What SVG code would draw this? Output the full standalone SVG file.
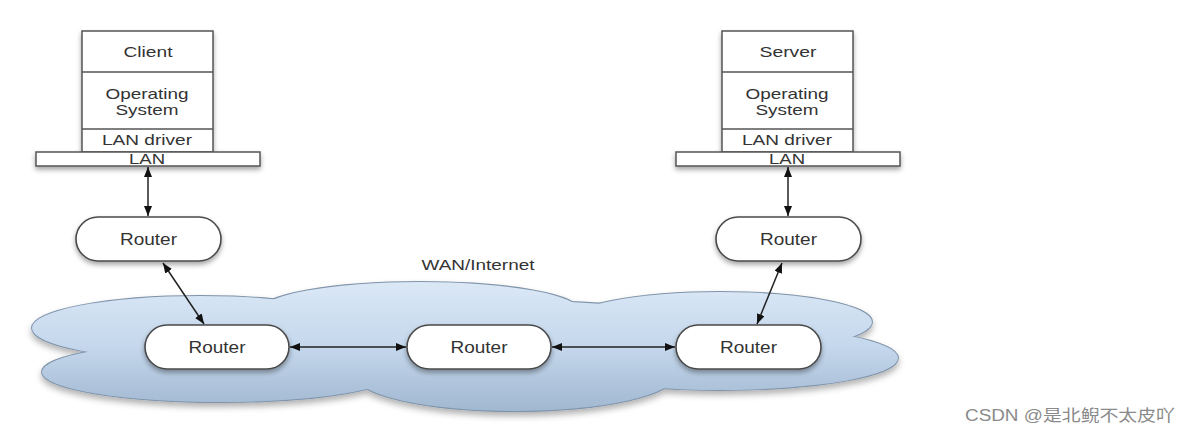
<svg xmlns="http://www.w3.org/2000/svg" xmlns:xlink="http://www.w3.org/1999/xlink" width="1192" height="434" viewBox="0 0 1192 434">
<style>
text{font-family:"Liberation Sans",Arial,sans-serif;fill:#333;text-anchor:middle}
.box{fill:#fff;stroke:#555;stroke-width:1.5}
.div{stroke:#555;stroke-width:1.5}
.router{fill:#fff;stroke:#4a4a4a;stroke-width:1.6}
.conn{stroke:#222;stroke-width:1.5;fill:none;marker-start:url(#ah);marker-end:url(#ah)}
.t15{font-size:15px}
.t16{font-size:16px}
.t14{font-size:14px}
</style>
<defs>
<marker id="ah" viewBox="0 0 10 8" refX="10" refY="4" markerWidth="10" markerHeight="8" markerUnits="userSpaceOnUse" orient="auto-start-reverse">
<path d="M0,0 L10,4 L0,8 z" fill="#111"/>
</marker>
<linearGradient id="cg" gradientUnits="userSpaceOnUse" x1="0" y1="282" x2="0" y2="412">
<stop offset="0" stop-color="#dbe8f6"/>
<stop offset="0.5" stop-color="#c4d7ec"/>
<stop offset="1" stop-color="#a0b7d0"/>
</linearGradient>
<filter id="sh" x="-10%" y="-20%" width="120%" height="150%">
<feDropShadow dx="0" dy="3" stdDeviation="2.5" flood-color="#000" flood-opacity="0.35"/>
</filter>
<filter id="csh" x="-5%" y="-10%" width="110%" height="130%">
<feDropShadow dx="0" dy="4" stdDeviation="3" flood-color="#000" flood-opacity="0.3"/>
</filter>
<g id="cloudShapes">
<ellipse cx="200" cy="328" rx="168" ry="32"/>
<ellipse cx="220" cy="372" rx="178" ry="30"/>
<ellipse cx="420" cy="311" rx="160" ry="29"/>
<ellipse cx="720" cy="322" rx="152" ry="30"/>
<ellipse cx="720" cy="358" rx="178" ry="32"/>
<ellipse cx="515" cy="375" rx="160" ry="36"/>
<ellipse cx="480" cy="345" rx="300" ry="45"/>
</g>
</defs>
<rect width="1192" height="434" fill="#fff"/>

<g id="wan">
<g filter="url(#csh)">
<use xlink:href="#cloudShapes" fill="none" stroke="#8094aa" stroke-width="2"/>
<use xlink:href="#cloudShapes" fill="url(#cg)" stroke="none"/>
</g>
<text class="t15" x="478" y="270" textLength="113" lengthAdjust="spacingAndGlyphs">WAN/Internet</text>
</g>

<g id="client">
<g filter="url(#sh)">
<rect class="box" x="82" y="31" width="131" height="121"/>
<rect class="box" x="36" y="152" width="224" height="14"/>
</g>
<line class="div" x1="82" y1="72" x2="213" y2="72"/>
<line class="div" x1="82" y1="129" x2="213" y2="129"/>
<text class="t15" x="148" y="57" textLength="49" lengthAdjust="spacingAndGlyphs">Client</text>
<text class="t15" x="147" y="99" textLength="83" lengthAdjust="spacingAndGlyphs">Operating</text>
<text class="t15" x="147" y="115" textLength="63" lengthAdjust="spacingAndGlyphs">System</text>
<text class="t15" x="147" y="145" textLength="90" lengthAdjust="spacingAndGlyphs">LAN driver</text>
<text class="t14" x="147" y="164" textLength="36" lengthAdjust="spacingAndGlyphs">LAN</text>
</g>

<g id="server">
<g filter="url(#sh)">
<rect class="box" x="722" y="31" width="131" height="121"/>
<rect class="box" x="676" y="152" width="224" height="14"/>
</g>
<line class="div" x1="722" y1="72" x2="853" y2="72"/>
<line class="div" x1="722" y1="129" x2="853" y2="129"/>
<text class="t15" x="788" y="57" textLength="57" lengthAdjust="spacingAndGlyphs">Server</text>
<text class="t15" x="787" y="99" textLength="83" lengthAdjust="spacingAndGlyphs">Operating</text>
<text class="t15" x="787" y="115" textLength="63" lengthAdjust="spacingAndGlyphs">System</text>
<text class="t15" x="787" y="145" textLength="90" lengthAdjust="spacingAndGlyphs">LAN driver</text>
<text class="t14" x="787" y="164" textLength="36" lengthAdjust="spacingAndGlyphs">LAN</text>
</g>

<g id="router-client">
<rect class="router" filter="url(#sh)" x="76" y="217" width="145" height="44" rx="22"/>
<text class="t16" x="148.5" y="245" textLength="57" lengthAdjust="spacingAndGlyphs">Router</text>
</g>
<g id="router-server">
<rect class="router" filter="url(#sh)" x="716" y="217" width="145" height="44" rx="22"/>
<text class="t16" x="788.5" y="245" textLength="57" lengthAdjust="spacingAndGlyphs">Router</text>
</g>
<g id="router-wan-left">
<rect class="router" filter="url(#sh)" x="145" y="325" width="144" height="44" rx="22"/>
<text class="t16" x="217" y="353" textLength="57" lengthAdjust="spacingAndGlyphs">Router</text>
</g>
<g id="router-wan-mid">
<rect class="router" filter="url(#sh)" x="407" y="325" width="144" height="44" rx="22"/>
<text class="t16" x="479" y="353" textLength="57" lengthAdjust="spacingAndGlyphs">Router</text>
</g>
<g id="router-wan-right">
<rect class="router" filter="url(#sh)" x="676" y="325" width="145" height="44" rx="22"/>
<text class="t16" x="748.5" y="353" textLength="57" lengthAdjust="spacingAndGlyphs">Router</text>
</g>

<g id="connectors">
<line class="conn" x1="148" y1="167" x2="148" y2="216"/>
<line class="conn" x1="788" y1="167" x2="788" y2="216"/>
<line class="conn" x1="163" y1="263" x2="204" y2="324"/>
<line class="conn" x1="782" y1="263" x2="757" y2="324"/>
<line class="conn" x1="290" y1="347" x2="406" y2="347"/>
<line class="conn" x1="552" y1="347" x2="675" y2="347"/>
</g>

<text x="965" y="421" style="font-family:'Liberation Sans','Noto Sans CJK SC',sans-serif;font-size:16px;fill:#8a8a8a;text-anchor:start" textLength="210" lengthAdjust="spacingAndGlyphs">CSDN @是北鲵不太皮吖</text>
</svg>
